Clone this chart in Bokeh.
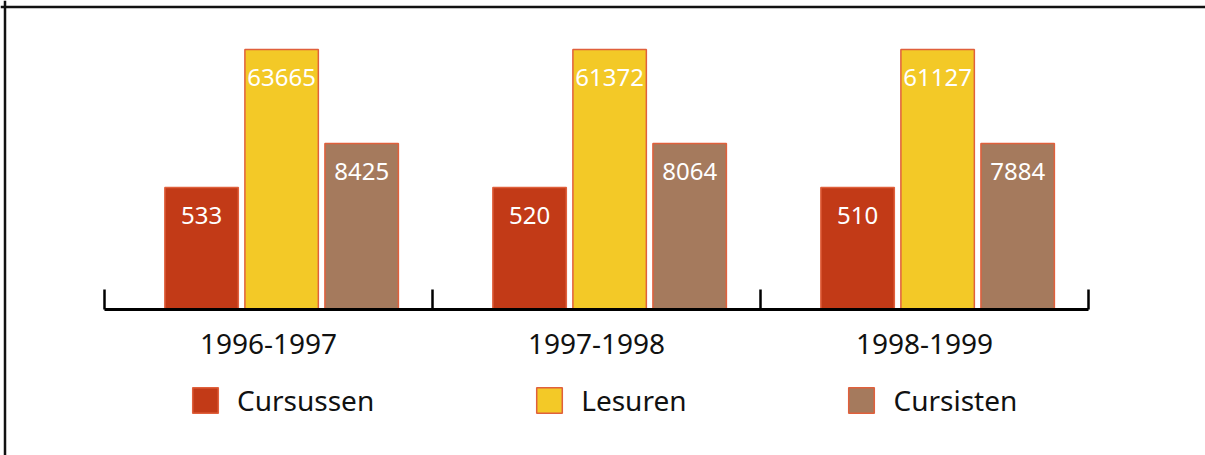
from bokeh.plotting import figure
from bokeh.models import Range1d, FixedTicker, Legend, LegendItem, ColumnDataSource, Span
from bokeh.core.properties import value
from bokeh.embed import file_html
from bokeh.resources import INLINE

# ---- data ----
periods = ["1996-1997", "1997-1998", "1998-1999"]
series = ["Cursussen", "Lesuren", "Cursisten"]
cursussen = [533, 520, 510]
lesuren = [63665, 61372, 61127]
cursisten = [8425, 8064, 7884]
# In the original the bars are schematic: each series keeps one fixed bar level
# (in chart units) whatever its value in a given period.
series_bar_level = [1.22, 2.60, 1.66]

values = [cursussen, lesuren, cursisten]
colors = ["#C23A17", "#F3C927", "#A57A5D"]
outline = "#E0603C"
FONT = "Noto Sans"

W, H = 1205, 455
px_x, px_y = 328.0, 100.0          # pixels per data unit
x_range = Range1d(-104 / px_x, (W - 104) / px_x)
y_range = Range1d(-(H - 309) / px_y, 309 / px_y)

n = len(periods)
p = figure(width=W, height=H, output_backend="svg", toolbar_location=None,
           x_range=x_range, y_range=y_range,
           y_axis_location=None, min_border=0)
p.outline_line_color = None
p.xgrid.visible = False
p.ygrid.visible = False
p.background_fill_color = "white"
p.border_fill_color = "white"

# page frame (left and top edges, as in the cropped original)
p.add_layout(Span(location=x_range.start + 4.5 / px_x, dimension="height",
                  line_color="#111111", line_width=2.5))
p.add_layout(Span(location=y_range.end - 6.5 / px_y, dimension="width",
                  line_color="#111111", line_width=2.5))

group_shift = 0.54
dodge = 0.244
bar_w = 0.224

renderers = []
for j, name in enumerate(series):
    xs = [i + group_shift + (j - 1) * dodge for i in range(n)]
    src = ColumnDataSource(dict(x=xs, top=[series_bar_level[j]] * n,
                                label=[str(v) for v in values[j]]))
    r = p.vbar(x="x", top="top", width=bar_w, bottom=0, source=src,
               fill_color=colors[j], line_color=outline, line_width=1.5)
    p.text(x="x", y="top", text="label", source=src, text_color="white",
           text_font=value(FONT), text_font_size="24px", text_align="center",
           text_baseline="middle", y_offset=28)
    renderers.append(r)

ax = p.xaxis[0]
ax.fixed_location = 0
ax.ticker = FixedTicker(ticks=[i + 0.5 for i in range(n)], minor_ticks=list(range(n + 1)))
ax.major_label_overrides = {i + 0.5: periods[i] for i in range(n)}
ax.bounds = (0, n)
ax.major_tick_line_color = None
ax.major_tick_in = 0
ax.major_tick_out = 0
ax.minor_tick_in = 20
ax.minor_tick_out = 0
ax.minor_tick_line_width = 2.5
ax.minor_tick_line_color = "black"
ax.axis_line_width = 3
ax.axis_line_color = "black"
ax.major_label_text_font = FONT
ax.major_label_text_font_size = "28px"
ax.major_label_text_color = "#111111"
ax.major_label_standoff = 24

legend = Legend(items=[LegendItem(label=s, renderers=[r]) for s, r in zip(series, renderers)],
                orientation="horizontal", location=(189, 36),
                glyph_width=32, glyph_height=32, label_standoff=16, spacing=159,
                label_text_font=FONT, label_text_font_size="28px",
                label_text_color="#111111", border_line_color=None,
                background_fill_alpha=0, padding=0, margin=0)
p.add_layout(legend, "center")

open("out.html", "w").write(file_html(p, INLINE))
